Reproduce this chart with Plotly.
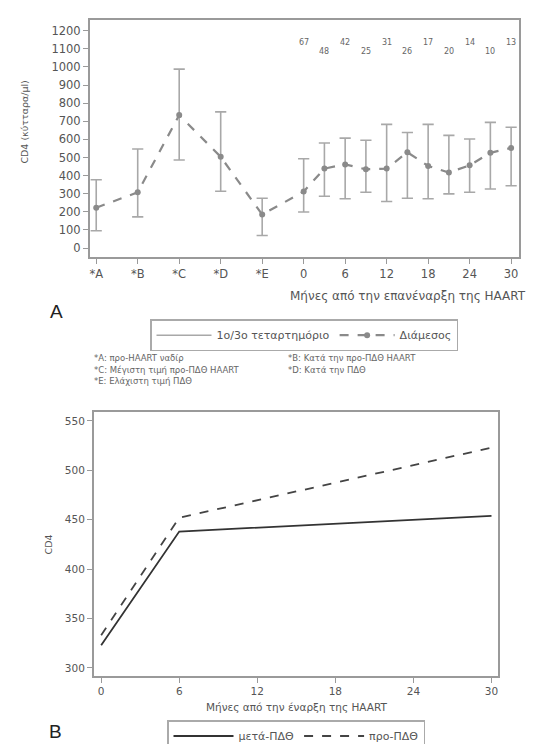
import plotly.graph_objects as go

W, H = 547, 744

# ---------------- Data: panel A ----------------
pre_labels = ["*A", "*B", "*C", "*D", "*E"]
months = [0, 3, 6, 9, 12, 15, 18, 21, 24, 27, 30]
month_ticks = [0, 6, 12, 18, 24, 30]
median_vals = [223, 308, 734, 504, 185, 312, 439, 462, 435, 439, 529, 453, 417, 457, 526, 553]
q1_vals = [96, 172, 486, 314, 69, 199, 286, 272, 308, 257, 275, 272, 299, 308, 326, 344]
q3_vals = [377, 547, 988, 752, 275, 493, 580, 607, 595, 683, 638, 683, 622, 602, 694, 667]
n_counts = [67, 48, 42, 25, 31, 26, 17, 20, 14, 10, 13]
footnotes = [
    "*A: προ-HAART ναδίρ",
    "*B: Κατά την προ-ΠΔΘ HAART",
    "*C: Μέγιστη τιμή προ-ΠΔΘ HAART",
    "*D: Κατά την ΠΔΘ",
    "*E: Ελάχιστη τιμή ΠΔΘ",
]

# ---------------- Data: panel B ----------------
b_months = [0, 6, 30]
post_vals = [323, 438, 454]
pre_vals = [333, 452, 523]

# x positions for panel A (categorical pre-period + months on a 6-month tick grid)
x_pre = list(range(len(pre_labels)))
x_post = [len(pre_labels) + m / 6 for m in months]
x_all = x_pre + x_post
tickvals_a = list(range(len(pre_labels) + len(month_ticks)))
ticktext_a = pre_labels + [str(m) for m in month_ticks]


def px(x):
    return x / W


def py(y):
    return 1 - y / H


fig = go.Figure()

GREY_LINE = "#8a8a8a"
GREY_ERR = "#a8a8a8"
AX = "#9a9a9a"
FONT = "DejaVu Sans"

# quartile whiskers (segments)
seg_x, seg_y = [], []
for xv, lo, hi in zip(x_all, q1_vals, q3_vals):
    seg_x += [xv, xv, None]
    seg_y += [lo, hi, None]
fig.add_trace(go.Scatter(
    x=seg_x, y=seg_y, mode="lines", name="1ο/3ο τεταρτημόριο",
    line=dict(color=GREY_ERR, width=1.6), xaxis="x", yaxis="y",
    legend="legend", hoverinfo="skip"))
# caps
fig.add_trace(go.Scatter(
    x=x_all + x_all, y=q1_vals + q3_vals, mode="markers", showlegend=False,
    marker=dict(symbol="line-ew-open", size=8, color=GREY_ERR, line=dict(width=1.6, color=GREY_ERR)),
    xaxis="x", yaxis="y", hoverinfo="skip"))
# median
fig.add_trace(go.Scatter(
    x=x_all, y=median_vals, mode="lines+markers", name="Διάμεσος",
    line=dict(color=GREY_LINE, width=2.2, dash="dash"),
    marker=dict(symbol="circle", size=6, color=GREY_LINE),
    xaxis="x", yaxis="y", legend="legend"))

# panel B lines
fig.add_trace(go.Scatter(
    x=b_months, y=post_vals, mode="lines", name="μετά-ΠΔΘ",
    line=dict(color="#333333", width=1.8), xaxis="x2", yaxis="y2", legend="legend2"))
fig.add_trace(go.Scatter(
    x=b_months, y=pre_vals, mode="lines", name="προ-ΠΔΘ",
    line=dict(color="#444444", width=1.8, dash="dash"), xaxis="x2", yaxis="y2", legend="legend2"))

axis_common = dict(showline=True, linecolor=AX, linewidth=2, mirror=True,
                   ticks="outside", ticklen=5, tickcolor=AX, showgrid=False,
                   zeroline=False)
tick_a = dict(family=FONT, size=11.5, color="#555555")
tick_b = dict(family=FONT, size=10.5, color="#555555")

annotations = []
# N counts
for i, n in enumerate(n_counts):
    annotations.append(dict(
        x=x_post[i], y=1135 if i % 2 == 0 else 1085, xref="x", yref="y",
        text=str(n), showarrow=False, font=dict(family=FONT, size=8, color="#666666")))


def ann(x, y, text, size, xanchor="center", angle=0, family=FONT, color="#555555"):
    annotations.append(dict(x=px(x), y=py(y), xref="paper", yref="paper", xanchor=xanchor,
                            yanchor="middle", text=text, showarrow=False, textangle=angle,
                            font=dict(family=family, size=size, color=color)))


# panel A titles and labels
ann(520, 292, "Μήνες από την επανέναρξη της HAART", 12, xanchor="right")
ann(17, 116, "CD4 (κύτταρα/μl)", 9.5, angle=-90)
ann(48, 307, "A", 19, family="Liberation Sans", color="#222222")
# footnotes
fn_pos = [(84, 354), (278, 354), (84, 366), (278, 366), (84, 378)]
for t, (fx, fy) in zip(footnotes, fn_pos):
    ann(fx, fy, t, 8.5, xanchor="left", color="#666666")

# panel B titles
ann(288, 708, "Μήνες από την έναρξη της HAART", 10.5)
ann(40, 543, "CD4", 9.5, angle=-90)
ann(47, 732, "B", 19, family="Liberation Sans", color="#222222")

fig.update_layout(
    width=W, height=H, margin=dict(l=0, r=0, t=0, b=0),
    paper_bgcolor="white", plot_bgcolor="white",
    font=dict(family=FONT, color="#555555"),
    xaxis=dict(domain=[px(82), px(511)], range=[-0.15, 10.19], tickvals=tickvals_a,
               ticktext=ticktext_a, anchor="y", tickfont=tick_a, **axis_common),
    yaxis=dict(domain=[py(252), py(12)], range=[-49, 1260], tickvals=list(range(0, 1201, 100)),
               anchor="x", tickfont=tick_a, **axis_common),
    xaxis2=dict(domain=[px(86), px(490)], range=[-0.55, 30.5], tickvals=month_ticks,
                anchor="y2", tickfont=tick_b, **axis_common),
    yaxis2=dict(domain=[py(676), py(409)], range=[292, 559], tickvals=[300, 350, 400, 450, 500, 550],
                anchor="x2", tickfont=tick_b, **axis_common),
    legend=dict(orientation="h", x=px(296), xanchor="center", y=py(315), yanchor="top",
                bordercolor="#aaaaaa", borderwidth=1.5, bgcolor="white",
                font=dict(family=FONT, size=11, color="#555555"), itemwidth=55),
    legend2=dict(orientation="h", x=px(288), xanchor="center", y=py(721), yanchor="top",
                 bordercolor="#aaaaaa", borderwidth=1.5, bgcolor="white",
                 font=dict(family=FONT, size=11, color="#555555"), itemwidth=60),
    annotations=annotations,
    showlegend=True,
)

fig.write_html("out.html")
